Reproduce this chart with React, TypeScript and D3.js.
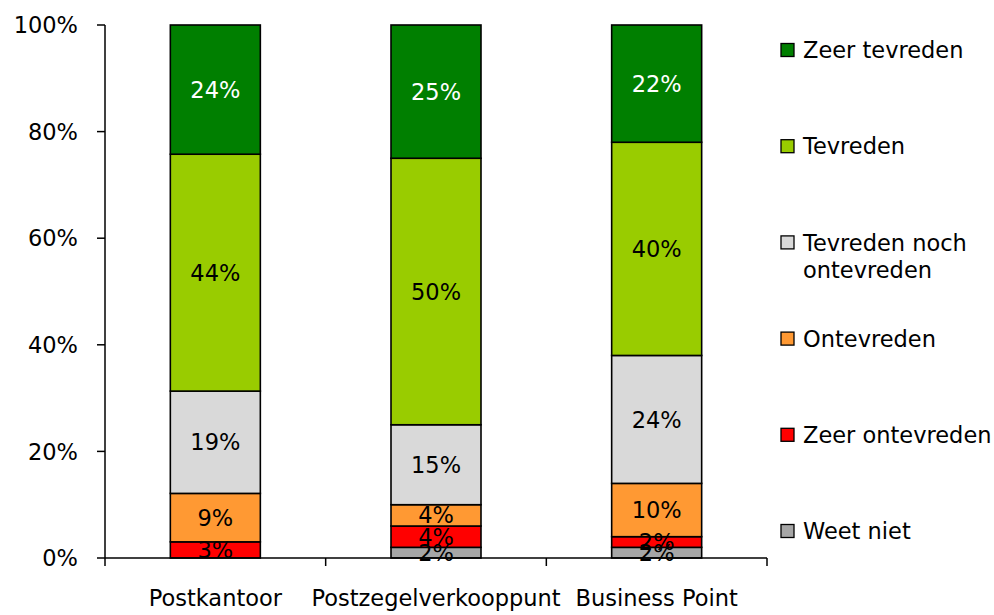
import React from "react";
import * as d3 from "d3";

const categories = ["Postkantoor", "Postzegelverkooppunt", "Business Point"];
const seriesNames = [
  "Weet niet",
  "Zeer ontevreden",
  "Ontevreden",
  "Tevreden noch ontevreden",
  "Tevreden",
  "Zeer tevreden",
];
const weetNiet = [0, 2, 2];
const zeerOntevreden = [3, 4, 2];
const ontevreden = [9, 4, 10];
const neutraal = [19, 15, 24];
const tevreden = [44, 50, 40];
const zeerTevreden = [24, 25, 22];
const seriesColors = ["#A6A6A6", "#FF0000", "#FF9933", "#D9D9D9", "#99CC00", "#007F00"];
const labelColors = ["#000", "#000", "#000", "#000", "#000", "#fff"];
const yTicks = [0, 0.2, 0.4, 0.6, 0.8, 1];
const legendOrder = [5, 4, 3, 2, 1, 0];
const legendLines: Record<string, string[]> = {
  "Tevreden noch ontevreden": ["Tevreden noch", "ontevreden"],
};

const W = 994;
const H = 615;
const FONT = "'DejaVu Sans', Verdana, sans-serif";
const FS = 22.5;

export default function App() {
  const seriesValues = [weetNiet, zeerOntevreden, ontevreden, neutraal, tevreden, zeerTevreden];
  const rows = categories.map((c, i) => {
    const r: Record<string, any> = { category: c };
    seriesNames.forEach((s, k) => (r[s] = seriesValues[k][i]));
    return r;
  });
  const stacked = d3
    .stack<any>()
    .keys(seriesNames)
    .offset(d3.stackOffsetExpand)(rows);

  const x = d3.scaleBand<string>().domain(categories).range([105, 767]).padding(0);
  const y = d3.scaleLinear().domain([0, 1]).range([558, 25]);
  const barW = 90;
  const boundaries = d3.range(categories.length + 1).map((i) => 105 + i * x.step());
  const legendY = d3.scaleLinear().domain([0, 5]).range([50, 531]);

  return (
    <>
      <style>{`body{margin:0}`}</style>
      <svg width={W} height={H} style={{ display: "block", background: "#fff" }} fontFamily={FONT}>
        {stacked.map((layer, k) => (
          <g key={layer.key}>
            {layer.map((d, i) => {
              const cx = (x(categories[i]) as number) + x.bandwidth() / 2;
              const y0 = y(d[0]);
              const y1 = y(d[1]);
              if (seriesValues[k][i] === 0) return null;
              return (
                <rect
                  key={i}
                  x={cx - barW / 2}
                  y={y1}
                  width={barW}
                  height={y0 - y1}
                  fill={seriesColors[k]}
                  stroke="#000"
                  strokeWidth={1.6}
                />
              );
            })}
          </g>
        ))}
        {stacked.map((layer, k) => (
          <g key={"l" + layer.key}>
            {layer.map((d, i) => {
              if (seriesValues[k][i] === 0) return null;
              const cx = (x(categories[i]) as number) + x.bandwidth() / 2;
              const cy = (y(d[0]) + y(d[1])) / 2;
              return (
                <text
                  key={i}
                  x={cx}
                  y={cy}
                  dy="0.36em"
                  textAnchor="middle"
                  fontSize={FS}
                  fill={labelColors[k]}
                >
                  {seriesValues[k][i]}%
                </text>
              );
            })}
          </g>
        ))}
        {/* y axis */}
        <line x1={105} x2={105} y1={y(1)} y2={y(0)} stroke="#000" strokeWidth={1.5} />
        {yTicks.map((t) => (
          <g key={t}>
            <line x1={97} x2={105} y1={y(t)} y2={y(t)} stroke="#000" strokeWidth={1.5} />
            <text x={78} y={y(t)} dy="0.36em" textAnchor="end" fontSize={FS} fill="#000">
              {d3.format(".0%")(t)}
            </text>
          </g>
        ))}
        {/* x axis */}
        <line x1={105} x2={767} y1={y(0)} y2={y(0)} stroke="#000" strokeWidth={1.5} />
        {boundaries.map((b, i) => (
          <line key={i} x1={b} x2={b} y1={y(0)} y2={y(0) + 8} stroke="#000" strokeWidth={1.5} />
        ))}
        {categories.map((c) => (
          <text
            key={c}
            x={(x(c) as number) + x.bandwidth() / 2}
            y={606}
            textAnchor="middle"
            fontSize={FS}
            fill="#000"
          >
            {c}
          </text>
        ))}
        {/* legend */}
        {legendOrder.map((k, j) => {
          const cy = legendY(j);
          const lines = legendLines[seriesNames[k]] || [seriesNames[k]];
          return (
            <g key={k}>
              <rect x={781} y={cy - 6.5} width={13} height={13} fill={seriesColors[k]} stroke="#000" strokeWidth={1.3} />
              {lines.map((ln, li) => (
                <text key={li} x={803} y={cy + li * 27} dy="0.36em" fontSize={FS} fill="#000">
                  {ln}
                </text>
              ))}
            </g>
          );
        })}
      </svg>
    </>
  );
}
